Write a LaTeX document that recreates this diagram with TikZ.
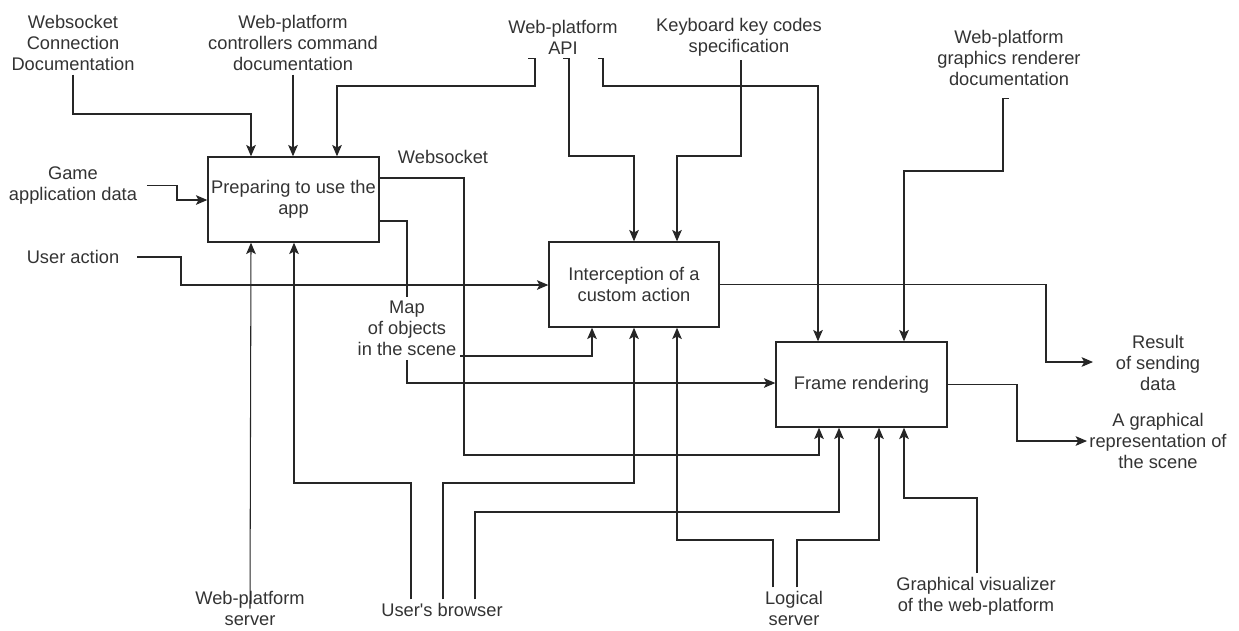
\documentclass[tikz,border=0pt]{standalone}
\usepackage{fontspec}
\setmainfont{Liberation Sans}[Ligatures=TeXOff]
\usetikzlibrary{arrows.meta}
\begin{document}
\begin{tikzpicture}[x=0.02cm, y=-0.02cm,
  font=\fontsize{10.4}{12}\selectfont,
  blk/.style={draw=black!85, line width=0.8pt, minimum width=3.42cm, minimum height=1.7cm, align=center, inner sep=1pt, text=black!80},
  lbl/.style={align=center, inner sep=2pt, text=black!80},
  arr/.style={draw=black!85, line width=0.6pt, -{Stealth[length=6.5pt,width=5.5pt,inset=1.5pt]}}]
  \useasboundingbox (0,0) rectangle (1239,630);
  \node[blk] (prep) at (293.5,199.5) {Preparing to use the\\app};
  \node[blk, minimum width=3.4cm] (icpt) at (634,284.5) {Interception of a\\custom action};
  \node[blk] (frame) at (861.5,384.5) {Frame rendering};
  \node[lbl] (wsdoc) at (73,43) {Websocket\\Connection\\Documentation};
  \node[lbl] (ctrldoc) at (293,43) {Web-platform\\controllers command\\documentation};
  \node[lbl] (api) at (563,37.5) {Web-platform\\API};
  \node[lbl] (kbd) at (739,37.5) {Keyboard key codes\\specification};
  \node[lbl] (gfxdoc) at (1009,58) {Web-platform\\graphics renderer\\documentation};
  \node[lbl] (game) at (73,185.5) {Game\\application data};
  \node[lbl] (ua) at (73,257) {User action};
  \node[lbl] (wsk) at (443,157) {Websocket};
  \node[lbl] (map) at (407,328.5) {Map\\of objects\\in the scene};
  \node[lbl] (result) at (1158,363) {Result\\of sending\\data};
  \node[lbl] (scene) at (1158,441) {A graphical\\representation of\\the scene};
  \node[lbl] (srv) at (250,608.5) {Web-platform\\server};
  \node[lbl] (browser) at (442,610) {User's browser};
  \node[lbl] (logic) at (794,608.5) {Logical\\server};
  \node[lbl] (gv) at (976,596) {Graphical visualizer\\of the web-platform};
  \draw[arr] (wsdoc.south) |- (251,114) -- (prep.north -| 251,0);
  \draw[arr] (ctrldoc.south) -- (ctrldoc.south |- prep.north);
  \draw[arr] (api.south -| 528,0) -| (535,86) -| (prep.north -| 337,0);
  \draw[arr] (api.south -| 563,0) -| (569,156) -| (icpt.north -| 634,0);
  \draw[arr] (api.south -| 598,0) -| (603,86) -| (frame.north -| 818,0);
  \draw[arr] (kbd.south -| 741,0) |- (677,156) -- (icpt.north -| 677,0);
  \draw[arr] (gfxdoc.south) ++(0,9) -| (1003,171) -| (frame.north -| 904,0);
  \draw[arr] (game.east) ++(6,0) -| (177,200) -- (prep.west |- 0,200);
  \draw[arr] (ua.east) ++(14,0) -| (181,285) -- (icpt.west |- 0,285);
  \draw[arr] (prep.east |- 0,178) -| (464,455) -| (frame.south -| 819,0);
  \draw[draw=black!85, line width=0.6pt] (prep.east |- 0,221) -| (map.north);
  \draw[arr] (map.south) |- (frame.west |- 0,383);
  \draw[arr] (map.east |- 0,356) -| (icpt.south -| 592,0);
  \draw[arr] (icpt.east) -| (1046,362) -- ++(47,0);
  \draw[arr] (frame.east) -| (1017,441) -- ++(70,0);
  \draw[arr] (srv.center) -- (prep.south -| 251,0);
  \draw[arr] (browser.north -| 411,0) |- (294,483) -- (prep.south -| 294,0);
  \draw[arr] (browser.north -| 443,0) |- (634,483) -- (icpt.south -| 634,0);
  \draw[arr] (browser.north -| 475,0) |- (839,512) -- (frame.south -| 839,0);
  \draw[arr] (logic.north -| 773,0) |- (677,540) -- (icpt.south -| 677,0);
  \draw[arr] (logic.north -| 797,0) |- (879,540) -- (frame.south -| 879,0);
  \draw[arr] (gv.north -| 977,0) |- (904,498) -- (frame.south -| 904,0);
\end{tikzpicture}
\end{document}
